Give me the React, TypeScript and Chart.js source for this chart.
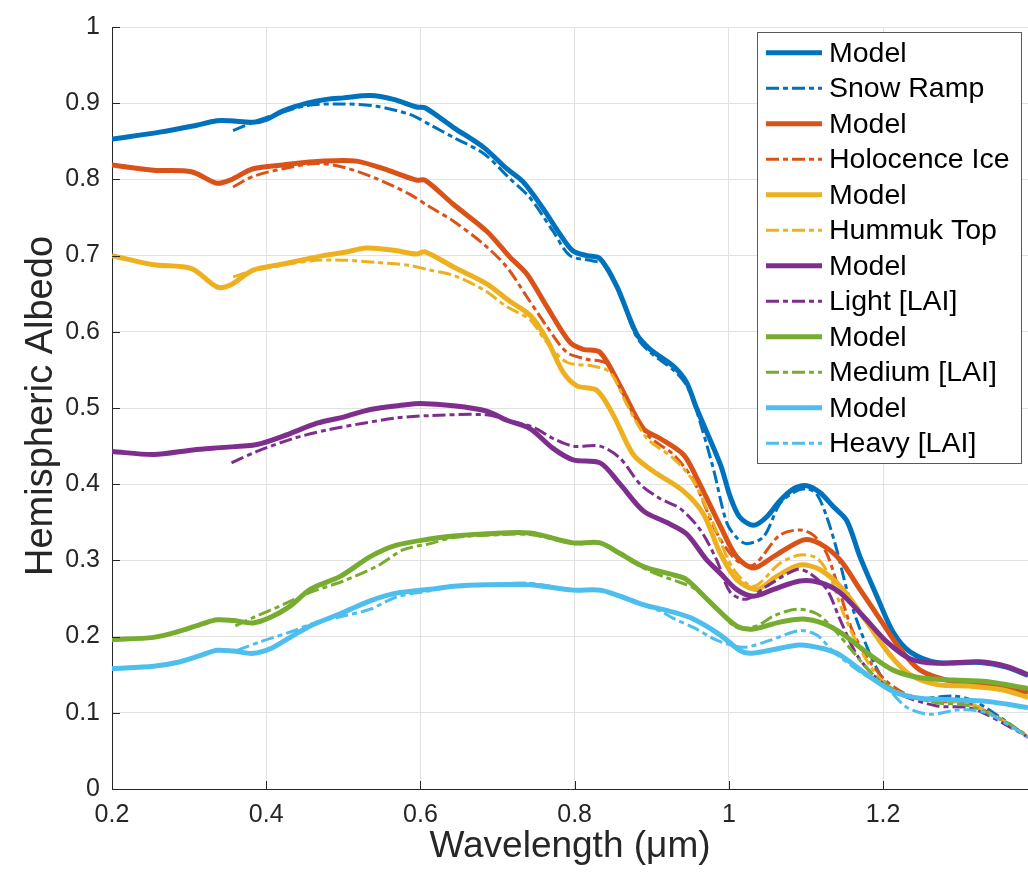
import React, { useEffect, useRef } from "react";
import { Chart, registerables } from "chart.js";

Chart.register(...registerables);

type Pt = [number, number];

const xTickValues = [0.2, 0.4, 0.6, 0.8, 1.0, 1.2];
const yTickValues = [0, 0.1, 0.2, 0.3, 0.4, 0.5, 0.6, 0.7, 0.8, 0.9, 1.0];

const xTitle = "Wavelength (μm)";
const yTitle = "Hemispheric Albedo";

const seriesLabels = [
  "Model", "Snow Ramp",
  "Model", "Holocence Ice",
  "Model", "Hummuk Top",
  "Model", "Light [LAI]",
  "Model", "Medium [LAI]",
  "Model", "Heavy [LAI]",
];

const seriesColors = [
  "#0072BD", "#0072BD",
  "#D95319", "#D95319",
  "#EDB120", "#EDB120",
  "#7E2F8E", "#7E2F8E",
  "#77AC30", "#77AC30",
  "#4DBEEE", "#4DBEEE",
];

const snowModel: Pt[] = [
  [0.2, 0.853], [0.262, 0.862], [0.305, 0.870], [0.336, 0.877], [0.353, 0.877],
  [0.383, 0.875], [0.401, 0.879], [0.422, 0.890], [0.453, 0.900], [0.478, 0.905],
  [0.5, 0.907], [0.535, 0.910], [0.565, 0.905], [0.595, 0.895], [0.606, 0.894],
  [0.643, 0.868], [0.682, 0.842], [0.712, 0.814], [0.733, 0.797], [0.759, 0.762],
  [0.781, 0.728], [0.798, 0.706], [0.816, 0.700], [0.833, 0.696], [0.855, 0.659],
  [0.880, 0.598], [0.898, 0.577], [0.928, 0.555], [0.945, 0.534], [0.958, 0.500],
  [0.989, 0.426], [1.002, 0.383], [1.014, 0.357], [1.032, 0.346], [1.049, 0.357],
  [1.066, 0.378], [1.084, 0.394], [1.101, 0.398], [1.118, 0.389], [1.136, 0.370],
  [1.153, 0.352], [1.170, 0.305], [1.192, 0.253], [1.213, 0.206], [1.235, 0.180],
  [1.270, 0.166], [1.326, 0.166], [1.360, 0.160], [1.388, 0.149],
];

const snowRamp: Pt[] = [
  [0.357, 0.864], [0.383, 0.875], [0.405, 0.883], [0.453, 0.897], [0.5, 0.899],
  [0.543, 0.896], [0.587, 0.885], [0.612, 0.872], [0.643, 0.855], [0.682, 0.834],
  [0.716, 0.801], [0.742, 0.776], [0.772, 0.732], [0.794, 0.700], [0.824, 0.693],
  [0.840, 0.688], [0.858, 0.652], [0.880, 0.594], [0.898, 0.573], [0.928, 0.550],
  [0.945, 0.530], [0.958, 0.497], [0.980, 0.420], [0.997, 0.350], [1.010, 0.330],
  [1.023, 0.322], [1.045, 0.331], [1.066, 0.374], [1.085, 0.390], [1.101, 0.394],
  [1.114, 0.387], [1.127, 0.357], [1.140, 0.314], [1.153, 0.262], [1.170, 0.210],
  [1.192, 0.158], [1.213, 0.128], [1.248, 0.119], [1.291, 0.122], [1.317, 0.116],
  [1.352, 0.094], [1.388, 0.068],
];

const iceModel: Pt[] = [
  [0.2, 0.819], [0.254, 0.812], [0.303, 0.810], [0.336, 0.795], [0.353, 0.799],
  [0.383, 0.814], [0.422, 0.819], [0.474, 0.824], [0.517, 0.824], [0.552, 0.814],
  [0.595, 0.799], [0.606, 0.799], [0.643, 0.767], [0.686, 0.732], [0.716, 0.698],
  [0.738, 0.676], [0.764, 0.633], [0.794, 0.586], [0.811, 0.577], [0.833, 0.573],
  [0.859, 0.529], [0.889, 0.473], [0.911, 0.460], [0.941, 0.439], [0.958, 0.409],
  [0.989, 0.345], [1.010, 0.305], [1.032, 0.290], [1.058, 0.305], [1.097, 0.327],
  [1.118, 0.322], [1.144, 0.301], [1.170, 0.262], [1.196, 0.223], [1.222, 0.184],
  [1.248, 0.156], [1.291, 0.141], [1.334, 0.138], [1.388, 0.127],
];

const holoceneIce: Pt[] = [
  [0.357, 0.790], [0.383, 0.804], [0.422, 0.814], [0.465, 0.821], [0.5, 0.816],
  [0.543, 0.801], [0.587, 0.780], [0.612, 0.764], [0.643, 0.745], [0.682, 0.715],
  [0.712, 0.685], [0.738, 0.646], [0.764, 0.607], [0.790, 0.573], [0.816, 0.564],
  [0.842, 0.558], [0.868, 0.512], [0.894, 0.465], [0.928, 0.439], [0.954, 0.405],
  [0.985, 0.335], [1.010, 0.300], [1.032, 0.294], [1.066, 0.333], [1.092, 0.340],
  [1.110, 0.333], [1.127, 0.309], [1.144, 0.258], [1.161, 0.206], [1.183, 0.167],
  [1.205, 0.141], [1.231, 0.124], [1.270, 0.115], [1.309, 0.113], [1.352, 0.092],
  [1.388, 0.068],
];

const hummukModel: Pt[] = [
  [0.2, 0.700], [0.254, 0.688], [0.303, 0.683], [0.336, 0.659], [0.353, 0.661],
  [0.383, 0.681], [0.422, 0.689], [0.474, 0.700], [0.5, 0.704], [0.530, 0.710],
  [0.565, 0.707], [0.595, 0.702], [0.606, 0.705], [0.643, 0.685], [0.686, 0.663],
  [0.716, 0.640], [0.742, 0.622], [0.764, 0.590], [0.785, 0.547], [0.803, 0.529],
  [0.829, 0.523], [0.850, 0.491], [0.876, 0.439], [0.902, 0.417], [0.941, 0.391],
  [0.967, 0.361], [0.989, 0.309], [1.010, 0.275], [1.036, 0.262], [1.062, 0.279],
  [1.092, 0.294], [1.118, 0.288], [1.148, 0.262], [1.179, 0.219], [1.209, 0.176],
  [1.235, 0.150], [1.270, 0.137], [1.313, 0.135], [1.356, 0.130], [1.388, 0.120],
];

const hummukTop: Pt[] = [
  [0.357, 0.672], [0.383, 0.680], [0.457, 0.693], [0.5, 0.694], [0.543, 0.691],
  [0.587, 0.687], [0.612, 0.681], [0.643, 0.674], [0.682, 0.655], [0.712, 0.633],
  [0.742, 0.616], [0.764, 0.586], [0.790, 0.560], [0.824, 0.555], [0.846, 0.547],
  [0.868, 0.504], [0.894, 0.460], [0.928, 0.434], [0.954, 0.404], [0.980, 0.348],
  [1.005, 0.290], [1.032, 0.266], [1.066, 0.296], [1.092, 0.307], [1.114, 0.303],
  [1.131, 0.279], [1.148, 0.232], [1.170, 0.184], [1.196, 0.145], [1.231, 0.122],
  [1.270, 0.115], [1.309, 0.113], [1.352, 0.092], [1.388, 0.068],
];

const lightModel: Pt[] = [
  [0.2, 0.443], [0.254, 0.439], [0.305, 0.445], [0.340, 0.448], [0.388, 0.452],
  [0.422, 0.463], [0.466, 0.480], [0.5, 0.488], [0.535, 0.498], [0.578, 0.504],
  [0.600, 0.506], [0.643, 0.503], [0.686, 0.496], [0.712, 0.484], [0.742, 0.473],
  [0.772, 0.447], [0.798, 0.432], [0.833, 0.428], [0.859, 0.400], [0.889, 0.365],
  [0.919, 0.350], [0.945, 0.335], [0.971, 0.301], [0.989, 0.283], [1.010, 0.262],
  [1.032, 0.253], [1.058, 0.262], [1.092, 0.273], [1.118, 0.271], [1.144, 0.258],
  [1.174, 0.227], [1.205, 0.193], [1.235, 0.171], [1.270, 0.165], [1.326, 0.167],
  [1.360, 0.161], [1.388, 0.150],
];

const lightLAI: Pt[] = [
  [0.355, 0.428], [0.388, 0.443], [0.435, 0.460], [0.478, 0.471], [0.526, 0.480],
  [0.569, 0.487], [0.612, 0.490], [0.686, 0.491], [0.720, 0.482], [0.746, 0.475],
  [0.772, 0.460], [0.798, 0.450], [0.833, 0.450], [0.859, 0.434], [0.885, 0.400],
  [0.911, 0.381], [0.937, 0.368], [0.963, 0.340], [0.984, 0.301], [1.002, 0.258],
  [1.023, 0.249], [1.049, 0.266], [1.088, 0.288], [1.105, 0.283], [1.127, 0.262],
  [1.144, 0.223], [1.166, 0.176], [1.192, 0.145], [1.222, 0.124], [1.270, 0.109],
  [1.309, 0.107], [1.334, 0.098], [1.388, 0.068],
];

const mediumModel: Pt[] = [
  [0.2, 0.196], [0.254, 0.199], [0.284, 0.206], [0.318, 0.217], [0.336, 0.222],
  [0.357, 0.221], [0.383, 0.218], [0.405, 0.225], [0.431, 0.240], [0.457, 0.262],
  [0.496, 0.279], [0.535, 0.305], [0.569, 0.320], [0.612, 0.328], [0.643, 0.332],
  [0.686, 0.335], [0.742, 0.336], [0.798, 0.323], [0.833, 0.323], [0.859, 0.309],
  [0.889, 0.292], [0.928, 0.281], [0.945, 0.275], [0.976, 0.245], [1.010, 0.214],
  [1.032, 0.210], [1.066, 0.219], [1.097, 0.223], [1.123, 0.217], [1.144, 0.206],
  [1.183, 0.176], [1.213, 0.156], [1.248, 0.146], [1.291, 0.143], [1.334, 0.141],
  [1.388, 0.132],
];

const mediumLAI: Pt[] = [
  [0.360, 0.214], [0.383, 0.225], [0.422, 0.242], [0.457, 0.258], [0.5, 0.273],
  [0.543, 0.292], [0.578, 0.314], [0.612, 0.322], [0.643, 0.330], [0.686, 0.333],
  [0.742, 0.334], [0.798, 0.322], [0.833, 0.322], [0.859, 0.308], [0.889, 0.290],
  [0.920, 0.277], [0.937, 0.271], [0.954, 0.264], [0.985, 0.236], [1.010, 0.212],
  [1.036, 0.214], [1.058, 0.227], [1.088, 0.236], [1.114, 0.230], [1.136, 0.210],
  [1.161, 0.180], [1.187, 0.150], [1.218, 0.128], [1.270, 0.113], [1.309, 0.110],
  [1.352, 0.092], [1.388, 0.070],
];

const heavyModel: Pt[] = [
  [0.2, 0.158], [0.254, 0.161], [0.284, 0.166], [0.314, 0.175], [0.336, 0.182],
  [0.357, 0.181], [0.383, 0.178], [0.405, 0.184], [0.431, 0.199], [0.457, 0.214],
  [0.496, 0.230], [0.535, 0.247], [0.569, 0.257], [0.612, 0.262], [0.643, 0.266],
  [0.686, 0.268], [0.742, 0.268], [0.798, 0.261], [0.833, 0.261], [0.859, 0.253],
  [0.889, 0.242], [0.928, 0.232], [0.954, 0.223], [0.989, 0.202], [1.014, 0.182],
  [1.027, 0.178], [1.053, 0.182], [1.092, 0.189], [1.123, 0.184], [1.144, 0.176],
  [1.179, 0.150], [1.213, 0.128], [1.248, 0.119], [1.291, 0.117], [1.334, 0.115],
  [1.388, 0.107],
];

const heavyLAI: Pt[] = [
  [0.362, 0.182], [0.392, 0.193], [0.431, 0.206], [0.466, 0.219], [0.5, 0.227],
  [0.535, 0.236], [0.569, 0.252], [0.612, 0.260], [0.643, 0.266], [0.686, 0.268],
  [0.742, 0.270], [0.798, 0.261], [0.833, 0.260], [0.859, 0.252], [0.889, 0.241],
  [0.910, 0.234], [0.928, 0.224], [0.954, 0.212], [0.985, 0.195], [1.019, 0.186],
  [1.053, 0.195], [1.092, 0.208], [1.114, 0.202], [1.136, 0.180], [1.170, 0.154],
  [1.205, 0.132], [1.231, 0.107], [1.261, 0.098], [1.300, 0.104], [1.334, 0.100],
  [1.388, 0.068],
];

const seriesData: Pt[][] = [
  snowModel, snowRamp,
  iceModel, holoceneIce,
  hummukModel, hummukTop,
  lightModel, lightLAI,
  mediumModel, mediumLAI,
  heavyModel, heavyLAI,
];

const FONT = "'Liberation Sans', Arial, Helvetica, sans-serif";
const AXIS_COLOR = "#262626";
const DASH = [13, 4, 5, 4];

const inwardTicks = {
  id: "inwardTicks",
  afterDraw(chart: any) {
    const { ctx, chartArea, scales } = chart;
    ctx.save();
    ctx.strokeStyle = AXIS_COLOR;
    ctx.lineWidth = 1;
    ctx.beginPath();
    xTickValues.forEach((v) => {
      const px = Math.round(scales.x.getPixelForValue(v)) + 0.5;
      ctx.moveTo(px, chartArea.bottom);
      ctx.lineTo(px, chartArea.bottom - 8);
    });
    yTickValues.forEach((v) => {
      const py = Math.round(scales.y.getPixelForValue(v)) + 0.5;
      ctx.moveTo(chartArea.left, py);
      ctx.lineTo(chartArea.left + 8, py);
    });
    ctx.stroke();
    ctx.restore();
  },
};

const yAxisTitle = {
  id: "yAxisTitle",
  afterDraw(chart: any) {
    const { ctx, chartArea } = chart;
    ctx.save();
    ctx.translate(52, (chartArea.top + chartArea.bottom) / 2 - 2);
    ctx.rotate(-Math.PI / 2);
    ctx.font = `38px ${FONT}`;
    ctx.fillStyle = AXIS_COLOR;
    ctx.textAlign = "center";
    ctx.textBaseline = "alphabetic";
    ctx.fillText(yTitle, 0, 0);
    ctx.restore();
  },
};

const matlabLegend = {
  id: "matlabLegend",
  afterDraw(chart: any) {
    const { ctx } = chart;
    const left = 757;
    const top = 32;
    const width = 264;
    const height = 431;
    ctx.save();
    ctx.fillStyle = "#ffffff";
    ctx.fillRect(left, top, width, height);
    ctx.strokeStyle = "#5a5a5a";
    ctx.lineWidth = 1;
    ctx.strokeRect(left + 0.5, top + 0.5, width, height);
    ctx.font = `28.5px ${FONT}`;
    ctx.textBaseline = "middle";
    ctx.textAlign = "left";
    seriesLabels.forEach((label, i) => {
      const y = 52.7 + i * 35.5;
      const dashed = i % 2 === 1;
      ctx.strokeStyle = seriesColors[i];
      ctx.lineWidth = dashed ? 3 : 5;
      ctx.setLineDash(dashed ? DASH : []);
      ctx.beginPath();
      ctx.moveTo(766, y);
      ctx.lineTo(822, y);
      ctx.stroke();
      ctx.setLineDash([]);
      ctx.fillStyle = "#000000";
      ctx.fillText(label, 829, y + 1);
    });
    ctx.restore();
  },
};

export default function App() {
  const canvasRef = useRef<HTMLCanvasElement | null>(null);

  useEffect(() => {
    document.body.style.margin = "0";
    const canvas = canvasRef.current;
    if (!canvas) return;
    const datasets = seriesData.map((pts, i) => {
      const dashed = i % 2 === 1;
      return {
        label: seriesLabels[i],
        data: pts.map(([x, y]) => ({ x, y })),
        borderColor: seriesColors[i],
        backgroundColor: seriesColors[i],
        borderWidth: dashed ? 3 : 5,
        borderDash: dashed ? DASH : [],
        pointRadius: 0,
        tension: 0.3,
        fill: false,
        order: seriesData.length - i,
        borderCapStyle: "butt" as const,
        borderJoinStyle: "round" as const,
      };
    });
    const chart = new Chart(canvas, {
      type: "line",
      data: { datasets },
      options: {
        animation: false,
        responsive: false,
        devicePixelRatio: 1,
        layout: { padding: { top: 16, right: 0, bottom: 0, left: 0 } },
        plugins: {
          legend: { display: false },
          tooltip: { enabled: false },
        },
        scales: {
          x: {
            type: "linear",
            min: 0.2,
            max: 1.388,
            afterFit: (s: any) => {
              s.height = 89;
            },
            ticks: {
              stepSize: 0.2,
              includeBounds: false,
              padding: 11,
              color: AXIS_COLOR,
              font: { size: 25, family: FONT },
              maxRotation: 0,
              callback: (v: any) => String(Math.round(Number(v) * 10) / 10),
            },
            grid: { color: "#e2e2e2", lineWidth: 1, drawTicks: false },
            border: { color: AXIS_COLOR, width: 1 },
            title: {
              display: true,
              text: xTitle,
              color: AXIS_COLOR,
              font: { size: 37, family: FONT },
              padding: { top: 0, bottom: 9 },
            },
          },
          y: {
            type: "linear",
            min: 0,
            max: 1,
            afterFit: (s: any) => {
              s.width = 112;
            },
            ticks: {
              stepSize: 0.1,
              padding: 12,
              color: AXIS_COLOR,
              font: { size: 25, family: FONT },
              callback: (v: any) => String(Math.round(Number(v) * 10) / 10),
            },
            grid: { color: "#e2e2e2", lineWidth: 1, drawTicks: false },
            border: { color: AXIS_COLOR, width: 1 },
            title: { display: false },
          },
        },
      },
      plugins: [inwardTicks, yAxisTitle, matlabLegend],
    });
    return () => {
      chart.destroy();
    };
  }, []);

  return (
    <canvas
      ref={canvasRef}
      width={1028}
      height={878}
      style={{ display: "block", width: 1028, height: 878 }}
    />
  );
}
